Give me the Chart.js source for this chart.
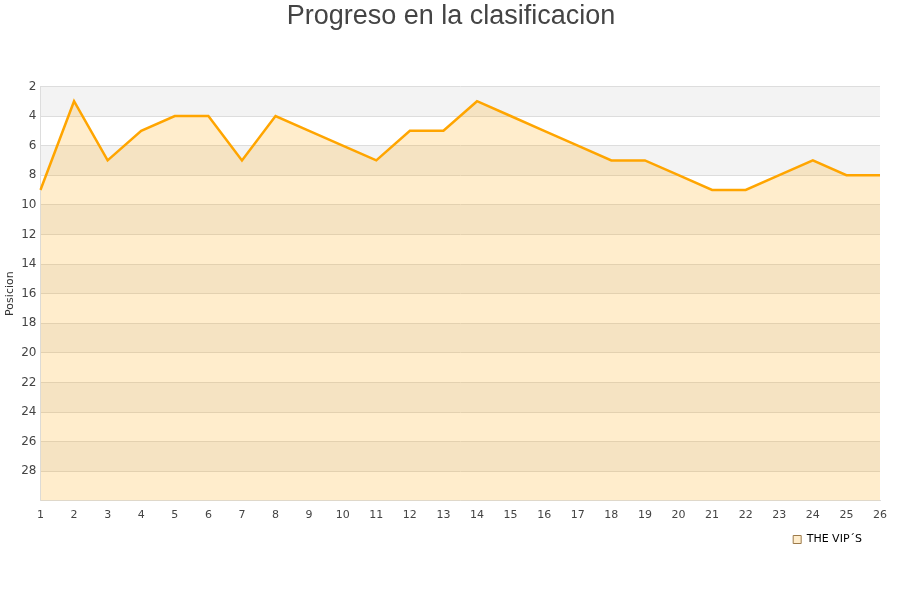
<!DOCTYPE html>
<html>
<head>
<meta charset="utf-8">
<script src="https://cdn.jsdelivr.net/npm/chart.js@4"></script>
<style>
  html, body { margin: 0; padding: 0; background: #fff; }
  #wrap { width: 900px; height: 600px; }
</style>
</head>
<body>
<div id="wrap"><canvas id="chart" width="900" height="600"></canvas></div>
<script>
(() => {
  const jornadas = ["1", "2", "3", "4", "5", "6", "7", "8", "9", "10", "11", "12", "13",
    "14", "15", "16", "17", "18", "19", "20", "21", "22", "23", "24", "25", "26"];
  const posiciones = [9, 3, 7, 5, 4, 4, 7, 4, 5, 6, 7, 5, 5, 3, 4, 5, 6, 7, 7, 8, 9, 9, 8, 7, 8, 8];
  const equipo = "THE VIP´S";
  const yMin = 2;
  const yMax = 30;

  // alternate grey / white stripes behind the plot
  const bands = {
    id: "bands",
    afterLayout: (chart) => {
      // nudge the legend a bit to the left, title centred on the canvas
      chart.legend.left -= 14;
      chart.legend.right -= 14;
      chart.titleBlock.left += 10;
      chart.titleBlock.right += 10;
    },
    beforeDraw: (chart) => {
      const { ctx, chartArea } = chart;
      const y = chart.scales.y;
      ctx.save();
      for (let v = yMin; v < yMax; v += 2) {
        if (((v - yMin) / 2) % 2 !== 0) continue;
        const top = y.getPixelForValue(v);
        const bottom = y.getPixelForValue(v + 2);
        ctx.fillStyle = "#f3f3f3";
        ctx.fillRect(chartArea.left, top, chartArea.right - chartArea.left, bottom - top);
      }
      ctx.restore();
    },
  };

  const ctx = document.getElementById("chart").getContext("2d");

  new Chart(ctx, {
    type: "line",
    data: {
      labels: jornadas,
      datasets: [
        {
          label: equipo,
          data: posiciones,
          borderColor: "#ffa500",
          borderWidth: 2.5,
          backgroundColor: "rgba(255,165,0,0.2)",
          fill: "start",
          pointRadius: 0,
          tension: 0,
        },
      ],
    },
    options: {
      responsive: false,
      animation: false,
      layout: { padding: { left: 2, right: 20, top: 0, bottom: 45 } },
      plugins: {
        title: {
          display: true,
          text: "Progreso en la clasificacion",
          color: "#444",
          font: { family: "Liberation Sans, Arial", size: 27, weight: "normal" },
          padding: { top: 0, bottom: 54 },
        },
        legend: {
          position: "bottom",
          align: "end",
          labels: {
            color: "#000",
            font: { family: "DejaVu Sans", size: 11 },
            boxWidth: 8,
            boxHeight: 8,
            padding: 4,
            generateLabels: () => [
              {
                text: equipo,
                fillStyle: "#ffedcc",
                strokeStyle: "#9c7a4a",
                lineWidth: 1,
                datasetIndex: 0,
              },
            ],
          },
        },
        tooltip: { enabled: false },
      },
      scales: {
        x: {
          offset: false,
          grid: { display: false, drawTicks: false },
          border: { color: "#ddd" },
          ticks: {
            color: "#444",
            font: { family: "DejaVu Sans", size: 11 },
            padding: 8,
            maxRotation: 0,
            autoSkip: false,
          },
        },
        y: {
          reverse: true,
          min: yMin,
          max: yMax,
          grid: { color: "#ddd", drawTicks: false },
          border: { color: "#ddd" },
          title: {
            display: true,
            text: "Posicion",
            color: "#333",
            font: { family: "DejaVu Sans", size: 11 },
            padding: { top: 2, bottom: 0 },
          },
          ticks: {
            stepSize: 2,
            color: "#444",
            font: { family: "DejaVu Sans", size: 12 },
            padding: 4,
            callback: (value) => (value === yMax ? "" : value),
          },
        },
      },
    },
    plugins: [bands],
  });
})();
</script>
</body>
</html>
